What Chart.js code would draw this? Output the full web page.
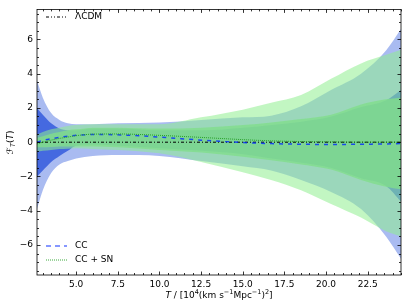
<!DOCTYPE html>
<html>
<head>
<meta charset="utf-8">
<script src="https://cdn.jsdelivr.net/npm/chart.js@4"></script>
<style>
  html, body { margin: 0; padding: 0; background: #fff; }
  #wrap { width: 407px; height: 307px; }
</style>
</head>
<body>
<div id="wrap"><canvas id="chart" width="407" height="307"></canvas></div>
<script>
// T grid (10^4 (km/s/Mpc)^2)
const T = [2.65, 3.0, 3.5, 4.0, 4.5, 5.0, 6.0, 7.5, 10, 12.5, 15, 16.7, 18.5, 20.3, 22.1, 23.6, 24.5];

// CC reconstruction: mean and 1 sigma / 2 sigma bounds
const ccMean = [0.0, 0.1, 0.2, 0.28, 0.35, 0.4, 0.45, 0.43, 0.3, 0.12, -0.02, -0.08, -0.12, -0.13, -0.12, -0.1, -0.08];
const cc1Lo = [-2.0, -1.65, -1.15, -0.8, -0.5, -0.2, -0.15, -0.2, -0.35, -0.5, -0.7, -0.95, -1.2, -1.5, -2.1, -2.55, -3.45];
const cc1Hi = [2.0, 1.6, 1.1, 0.8, 0.7, 0.7, 0.8, 0.8, 0.7, 0.7, 0.85, 1.0, 1.2, 1.5, 2.05, 2.45, 3.05];
const cc2Lo = [-3.9, -2.8, -1.8, -1.3, -1.1, -0.95, -0.8, -0.75, -0.8, -1.1, -1.4, -1.65, -2.2, -2.9, -3.9, -5.5, -6.8];
const cc2Hi = [3.6, 2.6, 1.7, 1.3, 1.1, 1.05, 1.05, 1.1, 1.15, 1.3, 1.45, 1.55, 2.1, 3.05, 4.0, 5.35, 6.6];

// CC + SN reconstruction
const snMean = [-0.1, 0.0, 0.12, 0.22, 0.3, 0.38, 0.47, 0.48, 0.4, 0.28, 0.15, 0.08, 0.04, 0.02, 0.0, 0.0, 0.0];
const sn1Lo = [-0.3, -0.3, -0.28, -0.25, -0.25, -0.25, -0.25, -0.3, -0.45, -0.6, -0.85, -1.05, -1.3, -1.6, -2.2, -2.6, -2.75];
const sn1Hi = [0.25, 0.35, 0.5, 0.6, 0.7, 0.75, 0.85, 0.85, 0.8, 0.85, 1.0, 1.15, 1.35, 1.6, 2.2, 2.5, 2.6];
const sn2Lo = [-0.55, -0.5, -0.45, -0.4, -0.38, -0.35, -0.4, -0.45, -0.65, -1.15, -1.75, -2.2, -2.8, -3.6, -4.4, -5.2, -5.5];
const sn2Hi = [0.45, 0.6, 0.75, 0.85, 0.95, 1.0, 1.05, 1.05, 1.05, 1.45, 1.9, 2.3, 2.75, 3.7, 4.6, 5.1, 5.4];

// LCDM reference
const lcdmT = [2.65, 24.5];
const lcdm = [0, 0];

const xTicks = [5.0, 7.5, 10.0, 12.5, 15.0, 17.5, 20.0, 22.5];
const yTicks = [-6, -4, -2, 0, 2, 4, 6];
const xRange = [2.65, 24.5];
const yRange = [-7.75, 7.75];

const pts = (xs, ys) => xs.map((x, i) => ({ x: x, y: ys[i] }));
const FONT = '"DejaVu Sans", sans-serif';

function band(data, color, order, fill) {
  return {
    data: data,
    borderWidth: 0,
    pointRadius: 0,
    backgroundColor: color,
    fill: fill,
    order: order,
    cubicInterpolationMode: 'monotone'
  };
}

const datasets = [
  band(pts(T, cc2Hi), 'rgba(65,105,225,0.45)', 10, '+1'),
  band(pts(T, cc2Lo), 'transparent', 10, false),
  band(pts(T, cc1Hi), 'rgba(45,85,220,0.8)', 9, '+1'),
  band(pts(T, cc1Lo), 'transparent', 9, false),
  band(pts(T, sn2Hi), 'rgba(144,238,144,0.55)', 8, '+1'),
  band(pts(T, sn2Lo), 'transparent', 8, false),
  band(pts(T, sn1Hi), 'rgba(130,222,140,0.8)', 7, '+1'),
  band(pts(T, sn1Lo), 'transparent', 7, false),
  {
    data: pts(lcdmT, lcdm), borderColor: '#000', borderWidth: 1,
    borderDash: [3, 2, 1, 2], pointRadius: 0, fill: false, order: 2
  },
  {
    data: pts(T, ccMean), borderColor: 'rgba(0,40,255,0.8)', borderWidth: 1.5,
    borderDash: [4, 5], pointRadius: 0, fill: false, order: 1,
    cubicInterpolationMode: 'monotone'
  },
  {
    data: pts(T, snMean), borderColor: 'rgb(40,160,40)', borderWidth: 1,
    borderDash: [1, 1], pointRadius: 0, fill: false, order: 0,
    cubicInterpolationMode: 'monotone'
  }
];

// inward ticks on all four sides, frame, legends and axis titles
const decor = {
  id: 'decor',
  afterDraw(chart) {
    const ctx = chart.ctx;
    const a = chart.chartArea;
    const xs = chart.scales.x, ys = chart.scales.y;
    ctx.save();
    ctx.strokeStyle = '#000';
    ctx.lineWidth = 0.8;
    ctx.setLineDash([]);
    ctx.strokeRect(a.left, a.top, a.right - a.left, a.bottom - a.top);

    ctx.beginPath();
    for (let v = 3.0; v <= xRange[1]; v += 0.5) {
      const px = Math.round(xs.getPixelForValue(v)) + 0.5;
      const major = xTicks.some(t => Math.abs(t - v) < 1e-6);
      const len = major ? 3.5 : 2;
      ctx.moveTo(px, a.bottom); ctx.lineTo(px, a.bottom - len);
      ctx.moveTo(px, a.top); ctx.lineTo(px, a.top + len);
    }
    for (let v = -7.5; v <= 7.5; v += 0.5) {
      const py = Math.round(ys.getPixelForValue(v)) + 0.5;
      const major = yTicks.includes(v);
      const len = major ? 3.5 : 2;
      ctx.moveTo(a.left, py); ctx.lineTo(a.left + len, py);
      ctx.moveTo(a.right, py); ctx.lineTo(a.right - len, py);
    }
    ctx.stroke();

    // legends
    ctx.font = '9px ' + FONT;
    ctx.textBaseline = 'middle';
    ctx.fillStyle = '#000';
    const legendLine = (y, color, width, dash, label) => {
      ctx.beginPath();
      ctx.strokeStyle = color;
      ctx.lineWidth = width;
      ctx.setLineDash(dash);
      ctx.moveTo(a.left + 9, y); ctx.lineTo(a.left + 30, y);
      ctx.stroke();
      ctx.setLineDash([]);
      ctx.fillText(label, a.left + 38, y);
    };
    legendLine(17, '#000', 1, [3, 2, 1, 2, 1, 2], 'ΛCDM');
    legendLine(246, 'rgba(40,70,255,0.75)', 1.5, [5, 4], 'CC');
    legendLine(260, 'rgb(60,170,60)', 1, [1, 1], 'CC + SN');

    // x title
    const xMid = (a.left + a.right) / 2;
    const parts = [
      ['italic 9px ' + FONT, 'T', 0],
      ['9px ' + FONT, ' / [10', 0],
      ['6.5px ' + FONT, '4', -3.5],
      ['9px ' + FONT, '(km s', 0],
      ['6.5px ' + FONT, '−1', -3.5],
      ['9px ' + FONT, 'Mpc', 0],
      ['6.5px ' + FONT, '−1', -3.5],
      ['9px ' + FONT, ')', 0],
      ['6.5px ' + FONT, '2', -3.5],
      ['9px ' + FONT, ']', 0]
    ];
    let total = 0;
    parts.forEach(p => { ctx.font = p[0]; total += ctx.measureText(p[1]).width; });
    let cx = xMid - total / 2;
    ctx.textAlign = 'left';
    parts.forEach(p => {
      ctx.font = p[0];
      ctx.fillText(p[1], cx, 296 + p[2]);
      cx += ctx.measureText(p[1]).width;
    });

    // y title, rotated
    ctx.translate(11, (a.top + a.bottom) / 2);
    ctx.rotate(-Math.PI / 2);
    const yparts = [
      ['italic 9px ' + FONT, 'ℱ', 0],
      ['italic 6.5px ' + FONT, 'T', 2],
      ['9px ' + FONT, '(', 0],
      ['italic 9px ' + FONT, 'T', 0],
      ['9px ' + FONT, ')', 0]
    ];
    total = 0;
    yparts.forEach(p => { ctx.font = p[0]; total += ctx.measureText(p[1]).width; });
    cx = -total / 2;
    yparts.forEach(p => {
      ctx.font = p[0];
      ctx.fillText(p[1], cx, p[2]);
      cx += ctx.measureText(p[1]).width;
    });
    ctx.restore();
  }
};

new Chart(document.getElementById('chart'), {
  type: 'line',
  data: { datasets: datasets },
  options: {
    responsive: false,
    animation: false,
    layout: { padding: { top: 5, right: 6, left: 0, bottom: 0 } },
    plugins: {
      legend: { display: false },
      tooltip: { enabled: false },
      filler: { propagate: false }
    },
    scales: {
      x: {
        type: 'linear',
        min: xRange[0],
        max: xRange[1],
        afterBuildTicks: s => { s.ticks = xTicks.map(v => ({ value: v })); },
        afterFit: s => { s.height = 32; },
        grid: { display: false, drawTicks: false },
        border: { display: false },
        ticks: {
          padding: 4,
          color: '#000',
          font: { family: FONT, size: 9 },
          maxRotation: 0,
          callback: v => v.toFixed(1)
        }
      },
      y: {
        type: 'linear',
        min: yRange[0],
        max: yRange[1],
        afterBuildTicks: s => { s.ticks = yTicks.map(v => ({ value: v })); },
        afterFit: s => { s.width = 37; },
        grid: { display: false, drawTicks: false },
        border: { display: false },
        ticks: {
          padding: 4,
          color: '#000',
          font: { family: FONT, size: 9 },
          callback: v => (v < 0 ? '−' + Math.abs(v) : String(v))
        }
      }
    }
  },
  plugins: [decor]
});
</script>
</body>
</html>
